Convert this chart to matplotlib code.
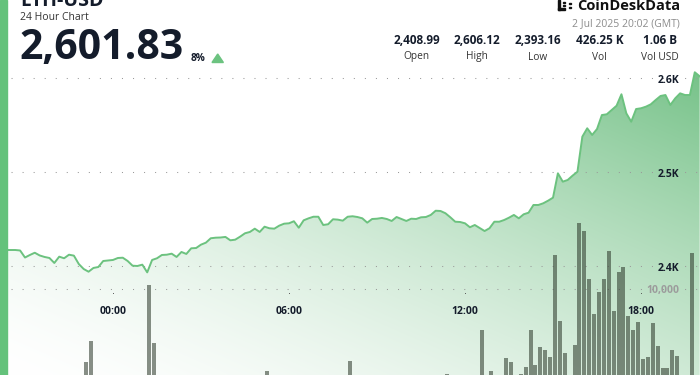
import numpy as np
import matplotlib
matplotlib.use("Agg")
import matplotlib.pyplot as plt
import matplotlib.transforms as mtransforms
from matplotlib.patches import Polygon, Rectangle

plt.rcParams["font.family"] = ["Open Sans", "DejaVu Sans"]

# ---------------------------------------------------------------------------
# Data: ETH-USD, 10-minute candles, hours counted from 00:00 (start 20:00 prev day)
# ---------------------------------------------------------------------------
START_HOUR = -4.0
STEP_HOURS = 1.0 / 6.0

PRICES = [
    2409.0, 2417.0, 2417.0, 2417.0, 2417.0, 2416.5, 2409.0, 2411.7, 2414.1, 2411.2,
    2409.6, 2408.5, 2403.2, 2409.9, 2408.2, 2412.0, 2411.0, 2402.1, 2396.8, 2393.9,
    2397.9, 2398.9, 2405.3, 2405.9, 2406.4, 2408.5, 2408.8, 2405.3, 2400.3, 2400.0,
    2401.4, 2393.2, 2406.4, 2408.2, 2411.7, 2412.0, 2413.1, 2409.6, 2414.9, 2412.8,
    2418.8, 2419.1, 2422.7, 2424.8, 2429.5, 2430.1, 2430.3, 2430.9, 2427.3, 2428.0,
    2431.2, 2434.8, 2436.2, 2439.7, 2436.2, 2441.8, 2440.1, 2439.7, 2442.9, 2445.0,
    2445.4, 2447.6, 2440.7, 2448.6, 2450.7, 2452.4, 2452.4, 2443.6, 2444.4, 2449.7,
    2449.3, 2448.2, 2452.4, 2452.9, 2452.1, 2450.7, 2446.1, 2450.0, 2450.3, 2451.1,
    2450.0, 2447.9, 2452.1, 2450.0, 2447.9, 2450.3, 2450.0, 2451.8, 2452.1, 2454.3,
    2458.8, 2458.5, 2456.1, 2451.8, 2447.1, 2446.8, 2445.4, 2441.2, 2443.6, 2440.4,
    2437.2, 2440.1, 2447.1, 2447.1, 2448.9, 2451.4, 2454.3, 2450.7, 2455.0, 2456.7,
    2464.9, 2464.9, 2466.7, 2469.5, 2472.7, 2498.6, 2489.7, 2491.5, 2496.1, 2500.3,
    2537.6, 2546.5, 2539.4, 2545.7, 2560.6, 2561.4, 2566.0, 2570.5, 2582.7, 2562.4,
    2553.5, 2567.0, 2567.8, 2569.5, 2572.0, 2576.6, 2580.9, 2581.9, 2571.3, 2578.4,
    2583.7, 2581.9, 2581.9, 2606.1, 2601.8,
]

VOLUMES = [
    1400, 1200, 1600, 1100, 1300, 1500, 1800, 1200, 1000, 1400,
    1300, 1700, 1900, 1200, 1100, 1500, 1400, 2000, 3400, 5340,
    1800, 1300, 1200, 1500, 1600, 1400, 1100, 1300, 1700, 1900,
    2000, 10390, 5140, 1500, 1200, 1300, 1700, 1100, 1400, 1600,
    1200, 1000, 1300, 1500, 1800, 1400, 1200, 1100, 1600, 1300,
    1500, 1700, 1200, 1400, 1900, 2610, 1500, 1300, 1100, 1400,
    1200, 1600, 1800, 1300, 1000, 1200, 1500, 1700, 1400, 1300,
    1600, 1900, 3510, 1400, 1200, 1100, 1300, 1500, 1200, 1000,
    1300, 1600, 1400, 1200, 1500, 1100, 1300, 1700, 1400, 1200,
    1600, 1800, 2340, 1500, 1700, 1300, 1900, 2000, 1800, 6280,
    2100, 2610, 1900, 2000, 3780, 3390, 2100, 2340, 2940, 6310,
    3120, 4780, 4470, 3900, 13060, 7120, 4200, 1800, 4930, 15950,
    15260, 10900, 7780, 9700, 10900, 13390, 8020, 11560, 11980, 7600,
    6310, 7060, 3660, 3870, 6940, 4870, 2850, 2880, 4470, 3990,
    1900, 1700, 13210, 2100, 1500,
]

PRICE_TICKS = [2400, 2500, 2600]
PRICE_TICK_LABELS = ["2.4K", "2.5K", "2.6K"]
VOLUME_TICKS = [10000]
VOLUME_TICK_LABELS = ["10,000"]
HOUR_TICKS = [0, 6, 12, 18]
HOUR_TICK_LABELS = ["00:00", "06:00", "12:00", "18:00"]

SYMBOL = "ETH-USD"
SUBTITLE = "24 Hour Chart"
LAST_PRICE = "2,601.83"
CHANGE = "8%"
TIMESTAMP = "2 Jul 2025 20:02 (GMT)"
STAT_VALUES = ["2,408.99", "2,606.12", "2,393.16", "426.25 K", "1.06 B"]
STAT_NAMES = ["Open", "High", "Low", "Vol", "Vol USD"]
STAT_CENTERS = [416.5, 477, 538, 599.5, 660]  # pixel x of each stat column

# ---------------------------------------------------------------------------
W, H = 700, 375
DARK = "#141c2b"
GREEN_LINE = "#6cc27f"
GREEN_BAR = "#64c27b"
GREEN_FILL = np.array([76, 175, 100]) / 255.0
GRID = "#9a9a9a"
DOTS = (0, (1, 9.6))


def fx(px):
    return px / W


def fy(py):
    return 1.0 - py / H


times = START_HOUR + STEP_HOURS * np.arange(len(PRICES))

fig = plt.figure(figsize=(W / 100, H / 100), dpi=100)
fig.patch.set_facecolor("white")
ax = fig.add_axes([0, 0, 1, 1])
ax.set_xlim(-3.852, 20.011)
ax.set_ylim(2284.0, 2683.0)
ax.axis("off")

# gradient area under the price line
ny, nx = 200, 350
yy, xx = np.mgrid[0:1:ny * 1j, 0:1:nx * 1j]
t = np.clip(0.55 * (1 - yy) + 0.45 * xx, 0, 1)
a = 0.9 * t ** 1.5
rgb = 1 - a[..., None] * (1 - GREEN_FILL)
x0, x1 = ax.get_xlim()
y0, y1 = ax.get_ylim()
im = ax.imshow(rgb, extent=[x0, x1, y0, y1], origin="upper", aspect="auto",
               interpolation="bilinear", zorder=1)
verts = [(times[0], y0)] + list(zip(times, PRICES)) + [(times[-1], y0)]
area = Polygon(verts, closed=True, facecolor="none", edgecolor="none")
ax.add_patch(area)
im.set_clip_path(area)

# grid and price labels
ylab = mtransforms.blended_transform_factory(ax.transAxes, ax.transData)
for p, lab in zip(PRICE_TICKS, PRICE_TICK_LABELS):
    ax.axhline(p, color=GRID, lw=0.75, ls=DOTS, zorder=2)
    ax.text(fx(679), p - 4.6 / 0.94, lab, transform=ylab, ha="right", va="baseline",
            fontsize=7.5, fontweight="bold", color=DARK, zorder=5)

ax.plot(times, PRICES, color=GREEN_LINE, lw=1.4, zorder=3, solid_joinstyle="round")

# hour labels
xlab = mtransforms.blended_transform_factory(ax.transData, ax.transAxes)
for h, lab in zip(HOUR_TICKS, HOUR_TICK_LABELS):
    ax.text(h, fy(314), lab, transform=xlab, ha="center", va="baseline",
            fontsize=7.5, fontweight="bold", color=DARK, zorder=5)
ax.plot(HOUR_TICKS, [fy(293)] * len(HOUR_TICKS), transform=xlab, ls="none",
        marker="s", ms=0.6, mew=0, color="#555555", zorder=5)

# volume bars on their own scale
ax2 = ax.twinx()
ax2.set_ylim(2252, 36036)
ax2.axis("off")
ax2.bar(times, VOLUMES, width=0.136, align="edge", color="#2c382a", alpha=0.56,
        lw=0, zorder=2)
vlab = mtransforms.blended_transform_factory(ax2.transAxes, ax2.transData)
for v, lab in zip(VOLUME_TICKS, VOLUME_TICK_LABELS):
    ax2.axhline(v, color=GRID, lw=0.75, ls=DOTS, zorder=1)
    ax2.text(fx(679), v - 4.0 / 111 * 10000, lab, transform=vlab, ha="right",
             va="baseline", fontsize=7.5, fontweight="bold", color="#9c9c9c")

# header
fig.text(fx(20), fy(6), SYMBOL, fontsize=14, fontweight="bold", color=DARK, va="baseline")
fig.text(fx(20), fy(20), SUBTITLE, fontsize=7.5, color="#333333", va="baseline")
fig.text(fx(19), fy(59.5), LAST_PRICE, fontsize=29.5, fontweight="bold", color=DARK,
         va="baseline")
fig.text(fx(191), fy(61), CHANGE, fontsize=7.3, fontweight="bold", color=DARK,
         va="baseline")
fig.patches.append(Polygon([(fx(217.7), fy(54)), (fx(212), fy(62.5)), (fx(223.4), fy(62.5))],
                           closed=True, transform=fig.transFigure, color="#6cc380"))

fig.text(fx(680), fy(9.5), "CoinDeskData", fontsize=10.5, fontweight="bold",
         color="#111111", ha="right", va="baseline")
for rx, ry, rw, rh in [(558, 0, 2.2, 9.5), (558, 7.5, 7, 2), (563, 1.5, 1.8, 1.8),
                       (563, 4.5, 1.8, 1.8), (569, 2.5, 1.8, 1.8), (569, 6.5, 1.8, 1.8)]:
    fig.patches.append(Rectangle((fx(rx), fy(ry + rh)), rw / W, rh / H,
                                 transform=fig.transFigure, color="#111111"))
fig.text(fx(680), fy(26.5), TIMESTAMP, fontsize=7.5, color="#8c8c8c", ha="right",
         va="baseline")
for cx, val, name in zip(STAT_CENTERS, STAT_VALUES, STAT_NAMES):
    fig.text(fx(cx), fy(44.5), val, fontsize=8.5, fontweight="bold", color=DARK,
             ha="center", va="baseline")
    fig.text(fx(cx), fy(59.5), name, fontsize=7.3, color="#333333",
             ha="center", va="baseline")

# green accent bar on the left edge
fig.patches.append(Rectangle((0, 0), fx(7), 1, transform=fig.transFigure,
                             color=GREEN_BAR, zorder=10))

fig.savefig("out.png", dpi=100)
